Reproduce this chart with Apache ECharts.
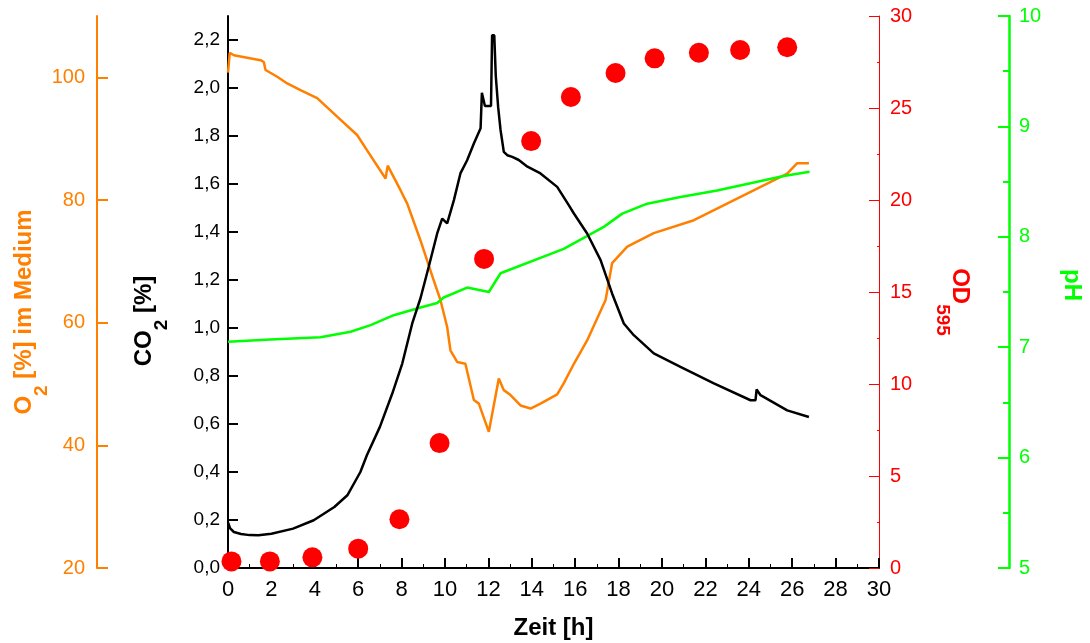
<!DOCTYPE html>
<html>
<head>
<meta charset="utf-8">
<script src="https://cdn.jsdelivr.net/npm/echarts@6/dist/echarts.min.js"></script>
<style>
  html, body { margin: 0; padding: 0; background: #fff; }
  #main { width: 1090px; height: 643px; }
</style>
</head>
<body>
<div id="main"></div>
<script>
// Zeit [h] fuer jede Messreihe
var co2Hours = [0, 0.1, 0.27, 0.6, 1.0, 1.4, 2.0, 3.0, 3.95, 4.9, 5.5, 6.1, 6.4, 7.0, 7.57, 8.03, 8.49, 8.87, 9.25, 9.64, 9.87, 10.1, 10.41, 10.71, 11.02, 11.33, 11.64, 11.7, 11.78, 11.84, 12.12, 12.17, 12.27, 12.34, 12.45, 12.56, 12.71, 12.87, 13.1, 13.4, 13.8, 14.4, 15.17, 15.71, 15.94, 16.55, 17.17, 17.7, 18.24, 18.7, 19.62, 20.85, 22.39, 24.08, 24.31, 24.36, 24.45, 24.54, 25.77, 26.77];
var co2Values = [0.19, 0.165, 0.15, 0.142, 0.137, 0.136, 0.143, 0.164, 0.199, 0.254, 0.303, 0.4, 0.47, 0.588, 0.727, 0.852, 1.019, 1.124, 1.255, 1.394, 1.456, 1.436, 1.533, 1.644, 1.699, 1.769, 1.832, 1.98, 1.98, 1.925, 1.925, 2.22, 2.22, 2.05, 1.92, 1.825, 1.734, 1.72, 1.713, 1.70, 1.672, 1.644, 1.588, 1.511, 1.477, 1.394, 1.283, 1.144, 1.019, 0.97, 0.894, 0.838, 0.769, 0.699, 0.699, 0.744, 0.744, 0.72, 0.657, 0.629];

var o2Hours = [0, 0.08, 0.27, 1.5, 1.65, 1.73, 2.27, 2.73, 3.34, 4.11, 5.03, 5.95, 6.41, 7.26, 7.36, 7.95, 8.26, 8.87, 9.48, 9.79, 10.1, 10.25, 10.56, 10.94, 11.33, 11.56, 12.02, 12.48, 12.71, 13.02, 13.48, 13.94, 14.4, 15.17, 15.47, 15.94, 16.55, 17.4, 17.7, 18.4, 19.62, 21.47, 23.62, 25.77, 26.23, 26.77];
var o2Values = [100.75, 104.0, 103.6, 102.8, 102.5, 101.2, 100.1, 99.0, 97.9, 96.6, 93.6, 90.6, 88.1, 83.5, 85.6, 81.6, 79.4, 73.4, 66.9, 63.7, 59.3, 55.5, 53.6, 53.3, 47.4, 46.8, 42.2, 50.9, 49.0, 48.2, 46.5, 46.0, 46.8, 48.3, 50.1, 53.3, 57.1, 63.7, 69.7, 72.4, 74.6, 76.7, 80.5, 84.3, 86.0, 86.0];

var phHours = [0, 1.96, 4.26, 5.65, 6.57, 7.64, 8.87, 9.64, 9.94, 11.02, 12.02, 12.56, 15.47, 17.32, 18.17, 19.32, 20.85, 22.54, 25.61, 26.8];
var phValues = [7.05, 7.07, 7.09, 7.14, 7.2, 7.29, 7.36, 7.4, 7.45, 7.54, 7.5, 7.67, 7.89, 8.09, 8.21, 8.3, 8.36, 8.42, 8.55, 8.59];

var odHours = [0.16, 1.93, 3.89, 6.0, 7.9, 9.75, 11.8, 13.97, 15.8, 17.86, 19.66, 21.7, 23.6, 25.77];
var odValues = [0.36, 0.36, 0.58, 1.05, 2.65, 6.79, 16.8, 23.2, 25.6, 26.9, 27.7, 28.0, 28.15, 28.3];

// Achsenbeschriftungen
var co2Ticks = [0, 0.2, 0.4, 0.6, 0.8, 1.0, 1.2, 1.4, 1.6, 1.8, 2.0, 2.2];
var o2Ticks = [20, 40, 60, 80, 100];

function zip(xs, ys) {
  return xs.map(function (x, i) { return [x, ys[i]]; });
}

var FONT = "'Liberation Sans', Arial, sans-serif";
var ORANGE = '#ff8000', RED = '#ff0000', GREEN = '#00ff00';

function titleRich(color) {
  return {
    m: { fontSize: 24, fontWeight: 'bold', color: color, fontFamily: FONT, lineHeight: 53 },
    s: { fontSize: 19, fontWeight: 'bold', color: color, fontFamily: FONT, verticalAlign: 'bottom' }
  };
}

var chart = echarts.init(document.getElementById('main'));

var option = {
  backgroundColor: '#fff',
  animation: false,
  grid: { left: 228, right: 211, top: 16, bottom: 75, outerBoundsMode: 'none', containLabel: false },
  xAxis: {
    type: 'value',
    min: 0, max: 30, interval: 2,
    name: 'Zeit [h]',
    nameLocation: 'middle',
    nameGap: 48,
    nameTextStyle: { fontSize: 24, fontWeight: 'bold', color: '#000', fontFamily: FONT },
    axisLine: { onZero: false, lineStyle: { color: '#000', width: 2 } },
    axisTick: { inside: true, length: 10, lineStyle: { color: '#000', width: 2 } },
    minorTick: { show: true, splitNumber: 2, length: 4, lineStyle: { color: '#000', width: 1 } },
    axisLabel: { fontSize: 22, color: '#000', margin: 11, fontFamily: FONT },
    splitLine: { show: false }
  },
  yAxis: [
    {
      type: 'value', position: 'left', offset: 0,
      min: 0, max: 2.3,
      name: '{m|CO}{s|2}{m| [%]}',
      nameLocation: 'middle', nameGap: 57, nameMoveOverlap: false,
      nameTextStyle: { rich: titleRich('#000'), padding: [0, 58, 0, 0] },
      axisLine: { onZero: false, lineStyle: { color: '#000', width: 2 } },
      axisTick: { inside: true, length: 10, customValues: co2Ticks, lineStyle: { color: '#000', width: 2 } },
      axisLabel: {
        customValues: co2Ticks, fontSize: 19, color: '#000', margin: 8, fontFamily: FONT,
        formatter: function (v) { return v.toFixed(1).replace('.', ','); }
      },
      splitLine: { show: false }
    },
    {
      type: 'value', position: 'left', offset: 131,
      min: 20, max: 110,
      name: '{m|O}{s|2}{m| [%] im Medium}',
      nameLocation: 'middle', nameGap: 46, nameMoveOverlap: false,
      nameTextStyle: { rich: titleRich(ORANGE), padding: [0, 40, 0, 0] },
      axisLine: { onZero: false, lineStyle: { color: ORANGE, width: 2 } },
      axisTick: { inside: true, length: 11, customValues: o2Ticks, lineStyle: { color: ORANGE, width: 2 } },
      axisLabel: { customValues: o2Ticks, fontSize: 20, color: ORANGE, margin: 12, fontFamily: FONT },
      splitLine: { show: false }
    },
    {
      type: 'value', position: 'right', offset: 0,
      min: 0, max: 30, interval: 5,
      name: '{m|OD}{s|595}',
      nameLocation: 'middle', nameGap: 54, nameRotate: -90, nameMoveOverlap: false,
      nameTextStyle: { rich: titleRich(RED), padding: [0, 0, 0, 20] },
      axisLine: { onZero: false, lineStyle: { color: RED, width: 1 } },
      axisTick: { inside: true, length: 10, lineStyle: { color: RED, width: 1 } },
      minorTick: { show: true, splitNumber: 2, length: 2, lineStyle: { color: RED, width: 1 } },
      axisLabel: { fontSize: 20, color: RED, margin: 11, fontFamily: FONT },
      splitLine: { show: false }
    },
    {
      type: 'value', position: 'right', offset: 130,
      min: 5, max: 10, interval: 1,
      name: '{m|pH}',
      nameLocation: 'middle', nameGap: 48, nameRotate: -90, nameMoveOverlap: false,
      nameTextStyle: { rich: { m: { fontSize: 24, fontWeight: 'bold', color: GREEN, fontFamily: FONT, lineHeight: 30 } }, padding: [0, 14, 0, 0] },
      axisLine: { onZero: false, lineStyle: { color: GREEN, width: 2.5 } },
      axisTick: { inside: true, length: 11, lineStyle: { color: GREEN, width: 2 } },
      minorTick: { show: true, splitNumber: 2, length: 6, lineStyle: { color: GREEN, width: 2 } },
      axisLabel: { fontSize: 20, color: GREEN, margin: 10, fontFamily: FONT },
      splitLine: { show: false }
    }
  ],
  series: [
    {
      name: 'O2', type: 'line', yAxisIndex: 1, data: zip(o2Hours, o2Values),
      showSymbol: false, symbol: 'none', lineStyle: { color: ORANGE, width: 2.5 }
    },
    {
      name: 'pH', type: 'line', yAxisIndex: 3, data: zip(phHours, phValues),
      showSymbol: false, symbol: 'none', lineStyle: { color: GREEN, width: 2.5 }
    },
    {
      name: 'CO2', type: 'line', yAxisIndex: 0, data: zip(co2Hours, co2Values),
      showSymbol: false, symbol: 'none', lineStyle: { color: '#000', width: 2.5 }
    },
    {
      name: 'OD595', type: 'scatter', yAxisIndex: 2, data: zip(odHours, odValues),
      symbolSize: 20, itemStyle: { color: RED, opacity: 1 }
    }
  ]
};

chart.setOption(option);
</script>
</body>
</html>
